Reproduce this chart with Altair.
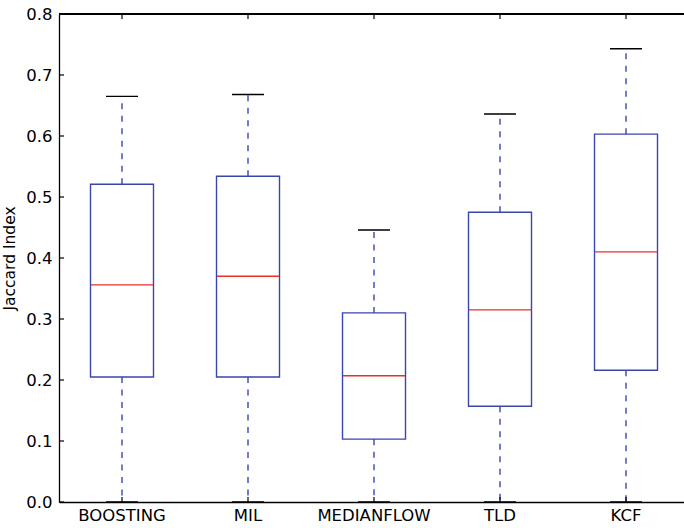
import altair as alt
import pandas as pd

categories = ["BOOSTING", "MIL", "MEDIANFLOW", "TLD", "KCF"]
whisker_low = [0.0, 0.0, 0.0, 0.0, 0.0]
q1 = [0.205, 0.205, 0.103, 0.157, 0.216]
median = [0.356, 0.370, 0.207, 0.315, 0.410]
q3 = [0.521, 0.534, 0.310, 0.475, 0.603]
whisker_high = [0.665, 0.668, 0.446, 0.636, 0.743]
y_ticks = [0.0, 0.1, 0.2, 0.3, 0.4, 0.5, 0.6, 0.7, 0.8]

df = pd.DataFrame({
    "cat": categories, "low": whisker_low, "q1": q1, "med": median,
    "q3": q3, "high": whisker_high,
})
ticks_df = pd.DataFrame({"v": y_ticks})

W, H = 625, 488
BLUE = "#3a46b0"
RED = "#e8302a"
FONT = "DejaVu Sans"
LW = 1.4

xs = alt.Scale(domain=categories, range=[0, 630], paddingInner=0, paddingOuter=0)
ys = alt.Scale(domain=[0, 0.8], nice=False, zero=False)
xplain = alt.X("cat:N", scale=xs, sort=categories)

xenc = alt.X("cat:N", scale=xs, sort=categories,
             axis=alt.Axis(title=None, labelAngle=0, ticks=False, domainColor="black",
                           labelFontSize=16.5, labelFont=FONT, labelColor="black",
                           labelPadding=5, domainWidth=1.3))
yaxis = alt.Axis(title="Jaccard Index", values=y_ticks, format=".1f", ticks=False,
                 grid=False, domainColor="black", domainWidth=1.3, labelFontSize=16.5,
                 labelFont=FONT, labelColor="black", labelPadding=7, titleFontSize=15.5,
                 titleFont=FONT, titleFontWeight="normal", titleColor="black",
                 titlePadding=8)

base = alt.Chart(df)

upper_wh = base.mark_rule(color=BLUE, strokeDash=[6, 6.5], strokeWidth=LW).encode(
    x=xenc, y=alt.Y("q3:Q", scale=ys, axis=yaxis), y2="high:Q")
lower_wh = base.mark_rule(color=BLUE, strokeDash=[6, 6.5], strokeWidth=LW).encode(
    x=xplain, y=alt.Y("q1:Q", scale=ys), y2="low:Q")
caps_hi = base.mark_bar(fillOpacity=0, stroke="black", strokeWidth=LW, size=32).encode(
    x=xplain, y=alt.Y("high:Q", scale=ys), y2="high:Q")
caps_lo = base.mark_bar(fillOpacity=0, stroke="black", strokeWidth=LW, size=32).encode(
    x=xplain, y=alt.Y("low:Q", scale=ys), y2="low:Q")
boxes = base.mark_bar(fillOpacity=0, stroke=BLUE, strokeWidth=LW, size=63).encode(
    x=xplain, y=alt.Y("q1:Q", scale=ys), y2="q3:Q")
meds = base.mark_bar(fillOpacity=0, stroke=RED, strokeWidth=LW, size=62).encode(
    x=xplain, y=alt.Y("med:Q", scale=ys), y2="med:Q")

# inward ticks on left axis
left_ticks = alt.Chart(ticks_df).mark_rule(color="black", strokeWidth=1.2).encode(
    y=alt.Y("v:Q", scale=ys), x=alt.value(0), x2=alt.value(5))
# inward ticks on bottom and top at categories
bot_ticks = alt.Chart(df).mark_rule(color="black", strokeWidth=1.2).encode(
    x=xplain, y=alt.value(H), y2=alt.value(H - 5))
top_ticks = alt.Chart(df).mark_rule(color="black", strokeWidth=1.2).encode(
    x=xplain, y=alt.value(0), y2=alt.value(5))
top_line = alt.Chart(df).mark_rule(color="black", strokeWidth=1.3).encode(
    x=alt.value(0), x2=alt.value(W), y=alt.value(0))

chart = alt.layer(
    upper_wh, lower_wh, boxes, meds, caps_hi, caps_lo,
    left_ticks, bot_ticks, top_ticks, top_line,
).properties(
    width=W, height=H,
    autosize=alt.AutoSizeParams(type="none"),
    padding={"left": 59, "top": 14, "right": 0, "bottom": 26},
).configure_view(strokeWidth=0).configure(background="white")

chart.save("out.html", embed_options={"renderer": "svg", "actions": False})
